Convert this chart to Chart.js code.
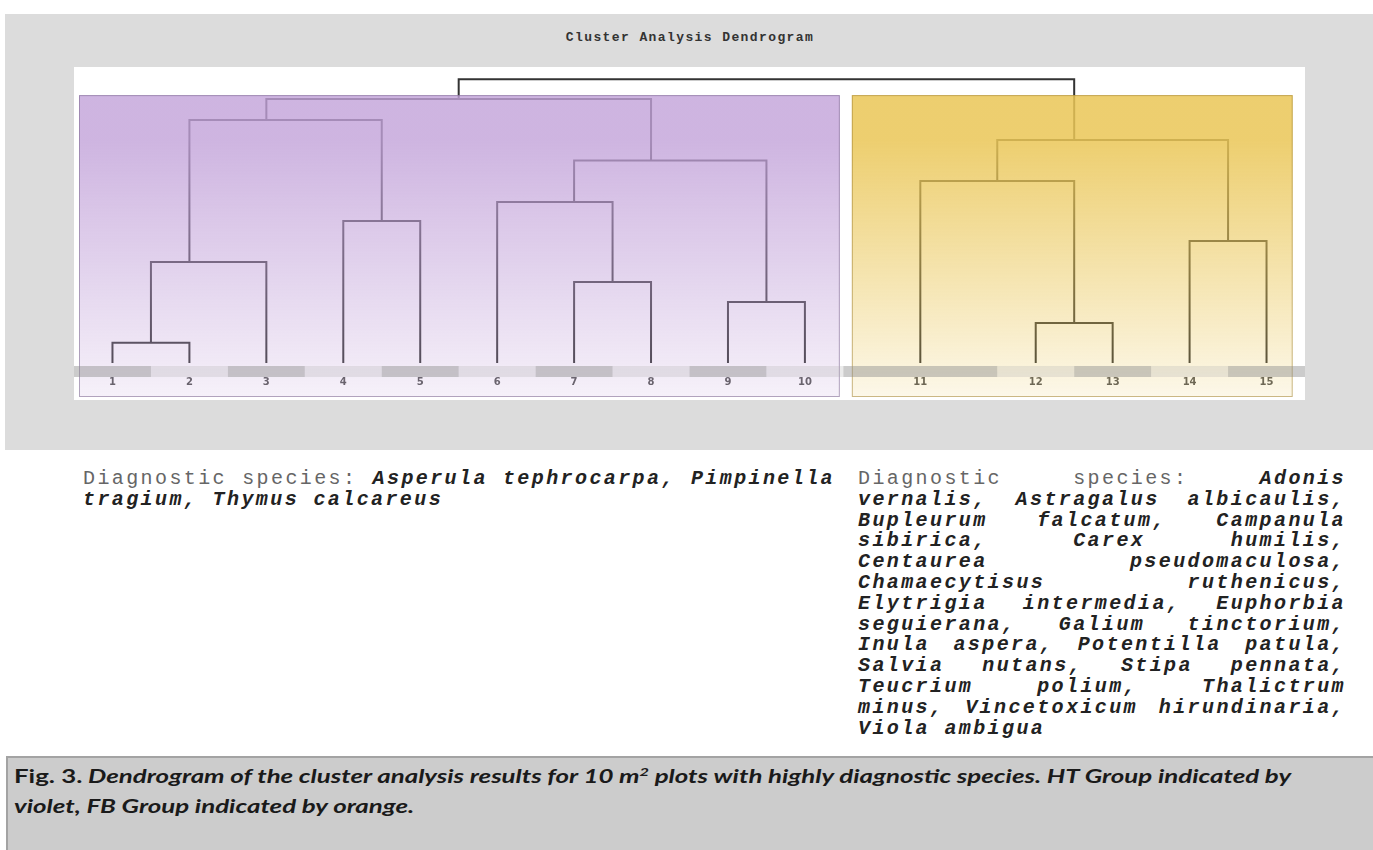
<!DOCTYPE html>
<html>
<head>
<meta charset="utf-8">
<script src="https://cdn.jsdelivr.net/npm/chart.js@4/dist/chart.umd.min.js"></script>
<style>
  body { margin: 0; background: #fff; width: 1373px; height: 850px; position: relative; overflow: hidden; }
  #panel { position: absolute; left: 5px; top: 14px; width: 1368px; height: 436px; background: #dcdcdc; }
  #title { position: absolute; left: 0; width: 1380px; top: 30px; text-align: center;
           font: bold 13px "Liberation Mono", monospace; letter-spacing: 1.4px; color: #333; }
  #plotBox { position: absolute; left: 74px; top: 67px; width: 1231px; height: 333px; background: #fff; }
  .species { position: absolute; font: 20px/20.8px "Liberation Mono", monospace; letter-spacing: 2.4px; color: #666; }
  .species div { white-space: nowrap; text-align: left; }
  .species div.j { text-align: justify; text-align-last: justify; }
  .species b { font-style: italic; color: #222; }
  #spLeft { left: 83px; top: 469px; width: 752px; }
  #spRight { left: 858px; top: 469px; width: 488px; }
  #caption { position: absolute; left: 6px; top: 756px; width: 1367px; height: 94px; background: #cccccc;
             border-top: 2px solid #a3a3a3; border-left: 2px solid #a3a3a3; box-sizing: border-box;
             padding: 3px 0 0 6px; overflow: hidden; }
  #capText { font: bold italic 19px/30px Lato, sans-serif; color: #1a1a1a; white-space: nowrap;
             transform: scaleX(1.36); transform-origin: 0 0; }
  #capText .fig { font-style: normal; }
  #capText sup { font-size: 12px; line-height: 0; }
</style>
</head>
<body>
<div id="panel"></div>
<div id="title">Cluster Analysis Dendrogram</div>
<div id="plotBox"><canvas id="dendro" width="1231" height="333"></canvas></div>

<div class="species" id="spLeft">
  <div class="j">Diagnostic species: <b>Asperula tephrocarpa, Pimpinella</b></div>
  <div><b>tragium, Thymus calcareus</b></div>
</div>

<div class="species" id="spRight">
  <div class="j">Diagnostic species: <b>Adonis</b></div>
  <div class="j"><b>vernalis, Astragalus albicaulis,</b></div>
  <div class="j"><b>Bupleurum falcatum, Campanula</b></div>
  <div class="j"><b>sibirica, Carex humilis,</b></div>
  <div class="j"><b>Centaurea pseudomaculosa,</b></div>
  <div class="j"><b>Chamaecytisus ruthenicus,</b></div>
  <div class="j"><b>Elytrigia intermedia, Euphorbia</b></div>
  <div class="j"><b>seguierana, Galium tinctorium,</b></div>
  <div class="j"><b>Inula aspera, Potentilla patula,</b></div>
  <div class="j"><b>Salvia nutans, Stipa pennata,</b></div>
  <div class="j"><b>Teucrium polium, Thalictrum</b></div>
  <div class="j"><b>minus, Vincetoxicum hirundinaria,</b></div>
  <div><b>Viola ambigua</b></div>
</div>

<div id="caption"><div id="capText"><span class="fig">Fig. 3.</span> Dendrogram of the cluster analysis results for 10 m<sup>2</sup> plots with highly diagnostic species. HT Group indicated by<br>violet, FB Group indicated by orange.</div></div>

<script>
// plots (leaves) in the order they appear under the tree
const leafLabels = ['1', '2', '3', '4', '5', '6', '7', '8', '9', '10', '11', '12', '13', '14', '15'];
const leafSpan = [1, 1, 1, 1, 1, 1, 1, 1, 1, 1, 2, 1, 1, 1, 1];
const leafGroup = [0, 0, 0, 0, 0, 0, 0, 0, 0, 0, 1, 1, 1, 1, 1];
const groupNames = ['HT Group', 'FB Group'];

// merges, hclust style: negative = leaf number, positive = row of an earlier merge
const mergeLeft = [-1, 1, -4, 2, -7, -6, -9, 6, 4, -12, -11, -14, 11, 9];
const mergeRight = [-2, -3, -5, 3, -8, 5, -10, 7, 8, -13, 10, -15, 12, 13];
const mergeHeight = [0.068, 0.341, 0.480, 0.821, 0.274, 0.544, 0.206, 0.684, 0.892, 0.135, 0.615, 0.412, 0.753, 0.959];
const mergeX = [1.0, 1.5, 4.0, 2.5, 7.0, 6.5, 9.0, 7.5, 5.0, 13.0, 12.0, 15.0, 13.0, 9.0];

// leaf bands along the axis
const bandStart = [];
const bandEnd = [];
let acc = 0;
leafSpan.forEach(s => { bandStart.push(acc); acc += s; bandEnd.push(acc); });
const leafPos = bandStart.map((b, i) => b + leafSpan[i] / 2);

function nodeX(id) { return id < 0 ? leafPos[-id - 1] : mergeX[id - 1]; }
function nodeH(id) { return id < 0 ? 0 : mergeHeight[id - 1]; }

const links = mergeLeft.map((l, i) => {
    const r = mergeRight[i];
    const h = mergeHeight[i];
    return [
        { x: nodeX(l), y: nodeH(l) },
        { x: nodeX(l), y: h },
        { x: nodeX(r), y: h },
        { x: nodeX(r), y: nodeH(r) },
    ];
});

// coloured group boxes and the grey label strip, drawn over the tree
const groupOverlay = {
    id: 'groupOverlay',
    afterDatasetsDraw(chart, args, opts) {
        const { ctx, chartArea, scales } = chart;
        const x = scales.x, y = scales.y;
        const top = y.getPixelForValue(opts.boxTop);
        const bottom = chartArea.bottom + opts.boxBelow;
        ctx.save();
        groupNames.forEach((g, gi) => {
            const members = leafGroup.map((v, i) => v === gi ? i : -1).filter(i => i >= 0);
            const first = members[0], last = members[members.length - 1];
            const x0 = x.getPixelForValue(bandStart[first] + opts.inset[gi][0]);
            const x1 = x.getPixelForValue(bandEnd[last] - opts.inset[gi][1]);
            const grad = ctx.createLinearGradient(0, top, 0, bottom);
            grad.addColorStop(0, opts.fillTop[gi]);
            grad.addColorStop(0.15, opts.fillTop[gi]);
            grad.addColorStop(1, opts.fillBottom[gi]);
            ctx.fillStyle = grad;
            ctx.fillRect(x0, top, x1 - x0, bottom - top);
            ctx.strokeStyle = opts.border[gi];
            ctx.lineWidth = 1;
            ctx.strokeRect(x0 + 0.5, top + 0.5, x1 - x0 - 1, bottom - top - 1);
        });
        leafPos.forEach((p, i) => {
            const a = x.getPixelForValue(bandStart[i]);
            const b = x.getPixelForValue(bandEnd[i]);
            ctx.fillStyle = i % 2 === 0 ? opts.stripDark : opts.stripLight;
            ctx.fillRect(a, chartArea.bottom + 3, b - a, 11);
        });
        ctx.restore();
    },
};

new Chart(document.getElementById('dendro'), {
    type: 'scatter',
    data: {
        datasets: links.map(pts => ({
            data: pts,
            showLine: true,
            borderColor: '#333',
            borderWidth: 2,
            pointRadius: 0,
            tension: 0,
        })),
    },
    options: {
        responsive: false,
        animation: false,
        layout: { padding: 0 },
        plugins: {
            legend: { display: false },
            tooltip: { enabled: false },
            groupOverlay: {
                boxTop: 0.905,
                boxBelow: 34,
                inset: [[0.065, 0.046], [0.11, 0.16]],
                fillTop: ['rgba(194,162,217,0.8)', 'rgba(234,198,86,0.85)'],
                fillBottom: ['rgba(194,162,217,0.15)', 'rgba(234,198,86,0.13)'],
                border: ['rgba(120,100,140,0.55)', 'rgba(160,130,50,0.55)'],
                stripDark: 'rgba(140,140,140,0.45)',
                stripLight: 'rgba(170,170,170,0.25)',
            },
        },
        scales: {
            x: {
                type: 'linear',
                min: 0,
                max: 16,
                z: 1,
                afterBuildTicks: scale => { scale.ticks = leafPos.map(v => ({ value: v })); },
                afterFit: scale => { scale.height = 37; },
                grid: { display: false, drawTicks: false },
                border: { display: false },
                ticks: {
                    autoSkip: false,
                    maxRotation: 0,
                    padding: 13,
                    color: '#555',
                    font: { family: 'DejaVu Sans', size: 10, weight: 'bold' },
                    callback: (v, i) => leafLabels[i],
                },
            },
            y: { display: false, min: 0, max: 1 },
        },
    },
    plugins: [groupOverlay],
});
</script>
</body>
</html>
